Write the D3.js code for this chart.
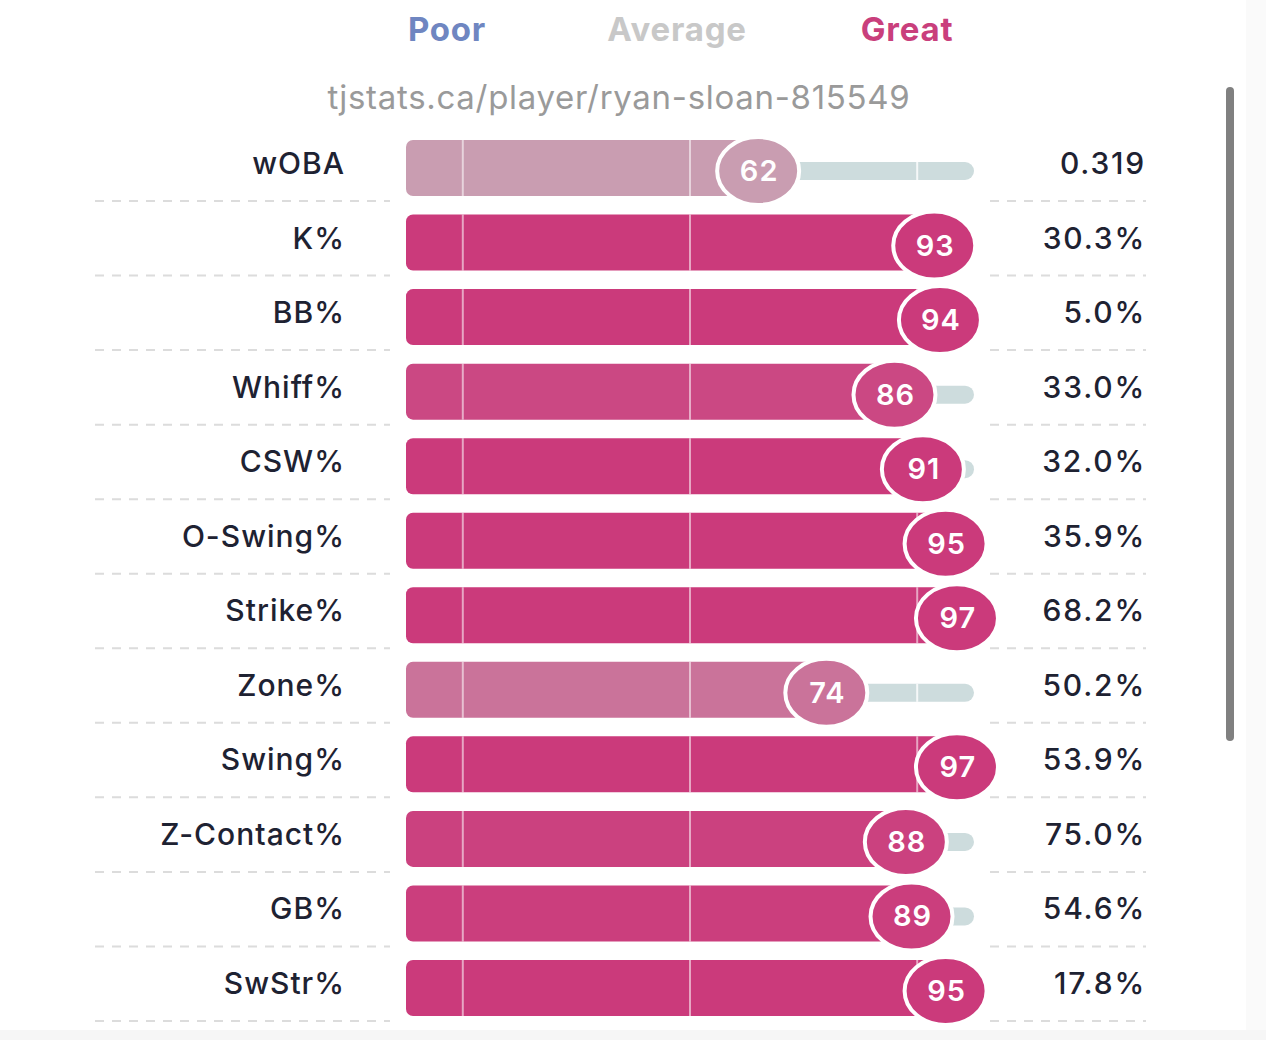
<!DOCTYPE html>
<html><head><meta charset="utf-8">
<script src="https://cdn.jsdelivr.net/npm/d3@7"></script>
<style>
html,body{margin:0;padding:0;background:#fff;}
svg{display:block;}
text{font-family:Inter,"Open Sans",sans-serif;}
</style></head>
<body>
<svg id="chart" width="1266" height="1040"></svg>
<script>
const metrics = ["wOBA","K%","BB%","Whiff%","CSW%","O-Swing%","Strike%","Zone%","Swing%","Z-Contact%","GB%","SwStr%"];
const percentiles = [62,93,94,86,91,95,97,74,97,88,89,95];
const values = ["0.319","30.3%","5.0%","33.0%","32.0%","35.9%","68.2%","50.2%","53.9%","75.0%","54.6%","17.8%"];
const legendLabels = ["Poor","Average","Great"];
const gridPercentiles = [10,50,90];
const title = "tjstats.ca/player/ryan-sloan-815549";

const svg = d3.select("#chart");
const W = 1266, H = 1040;

// background strips
svg.append("rect").attr("x",0).attr("y",0).attr("width",W).attr("height",H).attr("fill","#fff");
svg.append("rect").attr("x",1246).attr("y",0).attr("width",20).attr("height",H).attr("fill","#fafafa");
svg.append("rect").attr("x",0).attr("y",1030).attr("width",W).attr("height",10).attr("fill","#f6f6f6");

const x = d3.scaleLinear().domain([0,100]).range([406,974]);
const y = d3.scalePoint().domain(metrics).range([168, 988]);
const barH = 56;

const colorScale = d3.scaleLinear().domain([50,90]).range(["#c8c8c8","#cb3a7b"]).clamp(true).interpolate(d3.interpolateRgb);
const legendColors = ["#6f86c1","#c8c8c8","#c93f7c"];
const legendX = d3.scalePoint().domain(legendLabels).range([447,907]);

// legend
svg.selectAll(".legend").data(legendLabels).join("text")
  .attr("x",d=>legendX(d)).attr("y",41)
  .attr("text-anchor","middle")
  .attr("font-size",33).attr("font-weight",700).attr("letter-spacing",0.8)
  .attr("fill",(d,i)=>legendColors[i])
  .text(d=>d);

svg.append("text").attr("x",619).attr("y",109).attr("text-anchor","middle")
  .attr("font-size",33).attr("fill","#9a9a9a").attr("letter-spacing",0.7).text(title);

const rows = svg.selectAll(".row").data(metrics).join("g")
  .attr("transform",d=>`translate(0,${y(d)})`);

// dashed separators
rows.append("line").attr("x1",95).attr("x2",390).attr("y1",33).attr("y2",33)
  .attr("stroke","#dcdcdc").attr("stroke-width",2).attr("stroke-dasharray","9,8");
rows.append("line").attr("x1",990).attr("x2",1146).attr("y1",33).attr("y2",33)
  .attr("stroke","#dcdcdc").attr("stroke-width",2).attr("stroke-dasharray","9,8");

// track
rows.append("rect")
  .attr("x",(d,i)=>x(percentiles[i])-20)
  .attr("y",-6).attr("height",18)
  .attr("width",(d,i)=>Math.max(0,x(100)-x(percentiles[i])+20))
  .attr("rx",9).attr("fill","#cddcdd");
// track grid line at 90
rows.filter((d,i)=>percentiles[i] < 86).append("line")
  .attr("x1",x(90)).attr("x2",x(90)).attr("y1",-6).attr("y2",12)
  .attr("stroke","#fff").attr("stroke-opacity",0.8).attr("stroke-width",2);

// bar
rows.append("rect").attr("x",x(0)).attr("y",-barH/2)
  .attr("width",(d,i)=>x(percentiles[i])-x(0)).attr("height",barH)
  .attr("rx",7).attr("fill",(d,i)=>colorScale(percentiles[i]));

// grid lines inside bar
rows.each(function(d,i){
  const g = d3.select(this);
  gridPercentiles.filter(p=>p<percentiles[i]).forEach(p=>{
    g.append("line").attr("x1",x(p)).attr("x2",x(p)).attr("y1",-barH/2).attr("y2",barH/2)
      .attr("stroke","#fff").attr("stroke-opacity",0.55).attr("stroke-width",2);
  });
});

// bubble
rows.append("ellipse").attr("cx",(d,i)=>x(percentiles[i])).attr("cy",3)
  .attr("rx",41).attr("ry",34)
  .attr("fill",(d,i)=>colorScale(percentiles[i]))
  .attr("stroke","#fff").attr("stroke-width",4);
rows.append("text").attr("x",(d,i)=>x(percentiles[i])+1).attr("y",13)
  .attr("text-anchor","middle").attr("font-size",29).attr("font-weight",600)
  .attr("fill","#fff").attr("letter-spacing",1).text((d,i)=>percentiles[i]);

// labels
rows.append("text").attr("x",345).attr("y",6).attr("text-anchor","end")
  .attr("font-size",30).attr("font-weight",500).attr("fill","#1e2232")
  .attr("letter-spacing",1).text(d=>d);
rows.append("text").attr("x",1146).attr("y",6).attr("text-anchor","end")
  .attr("font-size",30).attr("font-weight",500).attr("fill","#1e2232")
  .attr("letter-spacing",1.8).text((d,i)=>values[i]);

// scrollbar
svg.append("line").attr("x1",1230).attr("x2",1230).attr("y1",91).attr("y2",737)
  .attr("stroke","#808080").attr("stroke-width",8).attr("stroke-linecap","round");
</script>
</body></html>
